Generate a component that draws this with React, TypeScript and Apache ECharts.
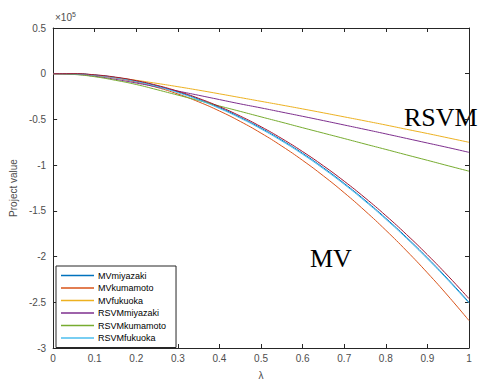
import React, { useEffect, useRef } from "react";
import * as echarts from "echarts";

const lambdas = [0, 0.05, 0.1, 0.15, 0.2, 0.25, 0.3, 0.35, 0.4, 0.45, 0.5, 0.55, 0.6, 0.65, 0.7, 0.75, 0.8, 0.85, 0.9, 0.95, 1];

const seriesNames = ["MVmiyazaki", "MVkumamoto", "MVfukuoka", "RSVMmiyazaki", "RSVMkumamoto", "RSVMfukuoka", "extra"];
const seriesColors = ["#0072BD", "#D95319", "#EDB120", "#7E2F8E", "#77AC30", "#4DBEEE", "#A2142F"];

const mvMiyazaki = [0, -0.0005, -0.014, -0.041, -0.081, -0.134, -0.2, -0.279, -0.371, -0.477, -0.595, -0.727, -0.871, -1.029, -1.2, -1.384, -1.581, -1.791, -2.014, -2.251, -2.5];
const mvKumamoto = [0, -0.002, -0.018, -0.048, -0.092, -0.15, -0.222, -0.308, -0.408, -0.522, -0.65, -0.792, -0.948, -1.118, -1.302, -1.5, -1.712, -1.938, -2.178, -2.432, -2.7];
const mvFukuoka = [0, -0.004, -0.018, -0.042, -0.072, -0.106, -0.142, -0.18, -0.22, -0.261, -0.302, -0.343, -0.385, -0.428, -0.472, -0.516, -0.561, -0.608, -0.654, -0.702, -0.75];
const rsvmMiyazaki = [0, -0.006, -0.028, -0.062, -0.102, -0.145, -0.19, -0.236, -0.283, -0.33, -0.374, -0.42, -0.466, -0.513, -0.561, -0.609, -0.658, -0.708, -0.758, -0.808, -0.86];
const rsvmKumamoto = [0, -0.008, -0.033, -0.072, -0.118, -0.175, -0.234, -0.293, -0.353, -0.412, -0.472, -0.531, -0.591, -0.65, -0.709, -0.769, -0.828, -0.888, -0.947, -1.007, -1.066];
const rsvmFukuoka = [0, -0.002, -0.017, -0.045, -0.086, -0.14, -0.207, -0.287, -0.38, -0.486, -0.605, -0.737, -0.882, -1.04, -1.211, -1.395, -1.592, -1.802, -2.025, -2.261, -2.51];
const extraSeries = [0, 0.0005, -0.012, -0.0375, -0.076, -0.1275, -0.192, -0.2695, -0.36, -0.4635, -0.58, -0.7095, -0.852, -1.0075, -1.176, -1.3575, -1.552, -1.7595, -1.98, -2.2135, -2.46];

const allValues = [mvMiyazaki, mvKumamoto, mvFukuoka, rsvmMiyazaki, rsvmKumamoto, rsvmFukuoka, extraSeries];

export default function App() {
  const ref = useRef<HTMLDivElement>(null);
  useEffect(() => {
    if (!ref.current) return;
    const chart = echarts.init(ref.current, null, { renderer: "svg" });
    const axisColor = "#262626";
    const labelColor = "#4d4d4d";
    const font = "'Liberation Sans', Arial, sans-serif";
    const serif = "'Liberation Serif', 'DejaVu Serif', serif";
    const xAxisBase = {
      type: "value" as const,
      min: 0,
      max: 1,
      interval: 0.1,
      splitLine: { show: false },
      axisLine: { show: true, onZero: false, lineStyle: { color: axisColor, width: 1 } },
      axisTick: { show: true, inside: true, length: 4, lineStyle: { color: axisColor } },
    };
    const yAxisBase = {
      type: "value" as const,
      min: -3,
      max: 0.5,
      interval: 0.5,
      splitLine: { show: false },
      axisLine: { show: true, onZero: false, lineStyle: { color: axisColor, width: 1 } },
      axisTick: { show: true, inside: true, length: 4, lineStyle: { color: axisColor } },
    };
    chart.setOption({
      animation: false,
      backgroundColor: "#ffffff",
      grid: { left: 52, top: 28, width: 417, height: 329 },
      xAxis: [
        {
          ...xAxisBase,
          position: "bottom",
          name: "λ",
          nameLocation: "middle",
          nameGap: 22,
          nameTextStyle: { color: labelColor, fontSize: 10, fontFamily: font },
          axisLabel: { color: labelColor, fontSize: 10, fontFamily: font, margin: 5, formatter: (v: number) => String(Math.round(v * 10) / 10) },
        },
        { ...xAxisBase, position: "top", axisLabel: { show: false } },
      ],
      yAxis: [
        {
          ...yAxisBase,
          position: "left",
          name: "Project value",
          nameLocation: "middle",
          nameGap: 31,
          nameTextStyle: { color: labelColor, fontSize: 10, fontFamily: font },
          axisLabel: { color: labelColor, fontSize: 10, fontFamily: font, margin: 7, formatter: (v: number) => String(v) },
        },
        { ...yAxisBase, position: "right", axisLabel: { show: false } },
      ],
      legend: {
        data: seriesNames.slice(0, 6),
        orient: "vertical",
        left: 56,
        top: 266,
        icon: "rect",
        itemWidth: 33,
        itemHeight: 1.5,
        itemGap: 3.5,
        padding: [5, 10, 5, 5],
        borderColor: "#262626",
        borderWidth: 1,
        borderRadius: 0,
        backgroundColor: "#ffffff",
        textStyle: { fontSize: 9, color: "#000", fontFamily: font, padding: [0, 0, 0, -1] },
      },
      graphic: [
        {
          type: "text",
          left: 55,
          top: 11,
          style: {
            text: "×10{sup|5}",
            fill: labelColor,
            fontSize: 10,
            fontFamily: font,
            rich: { sup: { fontSize: 7, verticalAlign: "top", fill: labelColor, padding: [0, 0, 6, 0] } },
          },
        },
        {
          type: "text",
          left: 404,
          top: 104,
          style: { text: "RSVM", fill: "#000", fontSize: 26, fontFamily: serif },
        },
        {
          type: "text",
          left: 310,
          top: 245,
          style: { text: "MV", fill: "#000", fontSize: 26, fontFamily: serif },
        },
      ],
      series: allValues.map((vals, i) => ({
        name: seriesNames[i],
        type: "line",
        xAxisIndex: 0,
        yAxisIndex: 0,
        smooth: true,
        symbol: "none",
        color: seriesColors[i],
        lineStyle: { width: 1, color: seriesColors[i] },
        data: vals.map((v, j) => [lambdas[j], v]),
      })),
    });
    return () => chart.dispose();
  }, []);
  return <div ref={ref} style={{ width: 488, height: 385, position: "absolute", left: 0, top: 0 }} />;
}
